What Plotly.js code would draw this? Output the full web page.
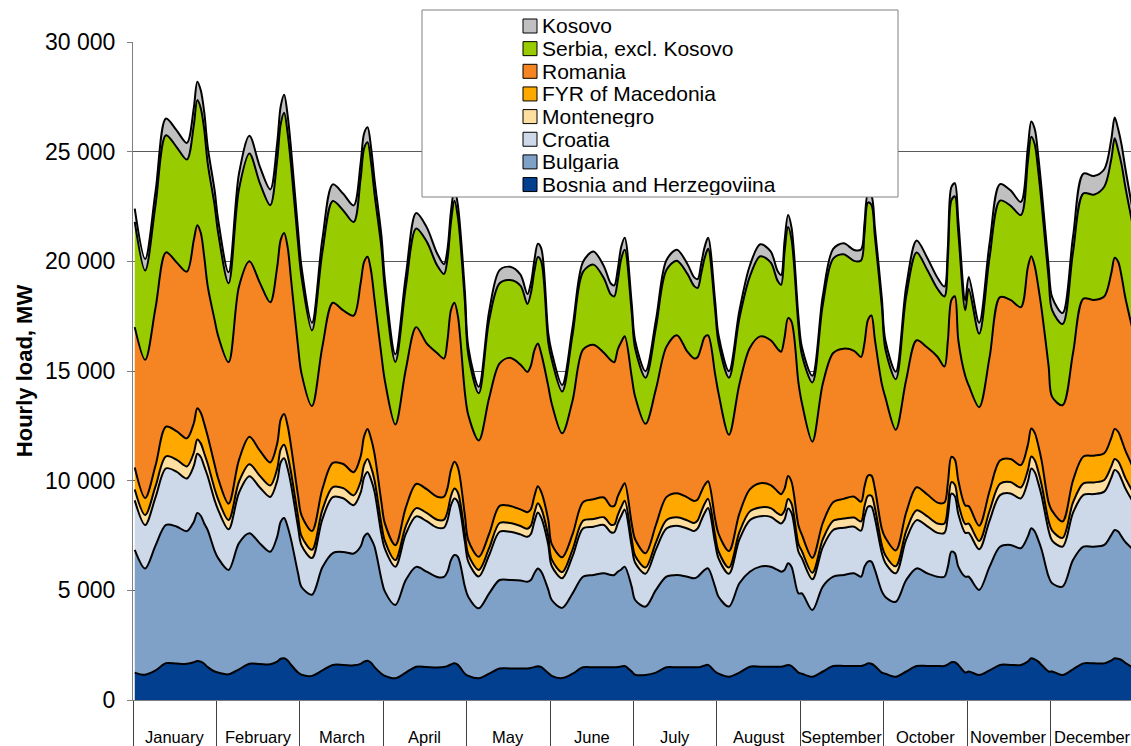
<!DOCTYPE html>
<html><head><meta charset="utf-8">
<script src="https://cdn.plot.ly/plotly-3.0.1.min.js"></script>
<style>html,body{margin:0;padding:0;background:#fff}#chart{width:1131px;height:746px}</style>
</head><body><div id="chart"></div>
<script>
// Months (categories) and the hours of the typical day sampled in each month
const months = ['January','February','March','April','May','June','July','August','September','October','November','December'];
const hours = [1,4,7,10,13,16,18,19,20,21,22,24];

// Hourly load, MW — one row per month, values at the hours above
const bosnia = [
 1250,1150,1350,1680,1660,1650,1720,1780,1750,1650,1500,1300,
 1250,1170,1400,1650,1640,1630,1750,1880,1900,1800,1600,1250,
 1150,1100,1350,1600,1600,1580,1650,1750,1790,1700,1500,1200,
 1100,990,1250,1520,1500,1480,1500,1550,1620,1670,1600,1200,
 1100,990,1200,1440,1440,1440,1440,1460,1500,1540,1500,1230,
 1100,1000,1200,1490,1490,1490,1490,1490,1500,1530,1550,1300,
 1150,1140,1250,1490,1490,1490,1490,1490,1520,1570,1600,1300,
 1200,1060,1250,1520,1520,1520,1520,1520,1550,1600,1550,1250,
 1200,1060,1300,1550,1550,1550,1550,1600,1670,1650,1550,1250,
 1200,1060,1300,1550,1550,1550,1550,1620,1720,1720,1600,1250,
 1300,1140,1350,1600,1600,1600,1750,1900,1850,1750,1600,1300,
 1300,1140,1400,1670,1670,1670,1800,1900,1880,1820,1700,1500];
const bulgaria = [
 5600,4850,5700,6300,6250,6050,6400,6750,6650,6400,6250,5500,
 5220,4760,5750,5950,5500,5130,5700,6250,6400,6100,5700,4530,
 4000,3700,4700,5100,5150,5100,5350,5700,5800,5650,5500,4300,
 3840,3340,4220,4550,4350,4130,4110,4300,4760,4940,4930,3970,
 3600,3190,3660,4030,4030,4010,3950,4010,4280,4460,4350,3800,
 3460,3200,3660,4130,4210,4290,4210,4210,4350,4420,4530,3870,
 3410,3120,3770,4130,4210,4130,4060,4130,4260,4360,4400,3870,
 3510,3200,4070,4330,4560,4560,4410,4330,4380,4630,4530,3610,
 3660,3040,3870,4070,4150,4230,4070,4480,4640,4660,4380,3700,
 3500,3420,4170,4450,4230,4070,4070,4460,5040,4970,4480,4370,
 4320,3880,4730,5390,5470,5320,5700,5930,5830,5550,5240,4320,
 4020,4030,4980,5320,5320,5400,5720,5850,5800,5630,5520,5400];
const croatia = [
 2250,1980,2200,2580,2500,2400,2550,2700,2680,2600,2450,2300,
 2200,1850,2300,2600,2550,2500,2550,2700,2720,2650,2500,2100,
 1900,1670,2200,2550,2450,2200,2450,2700,2800,2700,2500,2050,
 1950,1750,2100,2300,2300,2250,2250,2350,2500,2580,2500,2050,
 1600,1450,1750,2200,2200,2100,2050,2100,2350,2550,2450,2050,
 1550,1350,1700,2200,2200,2200,1950,1950,2200,2450,2600,1850,
 1700,1500,1850,2200,2250,2200,2150,2200,2400,2600,2750,2000,
 1750,1500,2000,2350,2300,2270,2200,2200,2300,2500,2450,1900,
 1600,1400,1800,2130,2150,2120,2100,2300,2500,2500,2350,1750,
 1550,1300,1850,2200,2150,2000,2000,2300,2650,2600,2400,2000,
 2000,1850,2100,2350,2350,2270,2500,2720,2700,2600,2450,2100,
 1950,1820,2150,2360,2400,2430,2600,2740,2700,2600,2450,2200];
const montenegro = [
 500,450,500,550,550,550,600,650,620,600,570,520,
 480,420,500,550,530,520,550,600,620,600,550,480,
 420,380,420,460,460,450,500,570,600,570,520,450,
 350,300,350,380,380,360,360,380,420,450,420,360,
 330,300,320,400,400,380,370,380,400,420,420,380,
 300,280,300,350,350,350,340,350,380,400,400,330,
 320,280,320,380,380,370,370,370,400,420,420,350,
 320,280,330,400,400,400,380,380,400,430,420,350,
 320,300,350,420,420,420,420,450,500,500,470,350,
 350,320,380,450,450,430,430,470,520,520,480,400,
 420,380,450,520,520,500,520,550,550,530,500,430,
 450,400,480,530,530,530,520,500,500,500,480,450];
const macedonia = [
 1000,780,950,1350,1300,1280,1350,1420,1400,1350,1250,1100,
 950,750,1000,1250,1150,1050,1150,1350,1400,1350,1200,950,
 950,850,950,1100,1100,1050,1150,1300,1370,1300,1200,1000,
 800,680,850,1100,1080,1050,1050,1080,1180,1220,1150,850,
 650,600,650,780,780,760,750,750,760,780,760,750,
 700,680,700,850,900,900,850,850,850,820,800,700,
 750,650,800,1050,1100,1050,1000,950,900,850,800,750,
 800,750,850,1000,1100,1050,1000,950,1000,1050,1000,850,
 750,680,750,850,900,950,900,900,920,920,880,750,
 800,720,850,1050,1000,950,950,1050,1150,1150,1050,850,
 800,700,900,1060,1050,1020,1150,1280,1250,1180,1100,850,
 900,750,1000,1220,1220,1220,1300,1370,1350,1300,1250,1150];
const romania = [
 6400,6300,7200,7950,7700,7600,8350,8350,8200,7600,6850,6600,
 6500,6450,7900,8000,7650,7300,8050,8200,8250,8150,7600,6800,
 6460,5700,6500,7300,7000,7150,7900,7950,7850,7650,7050,6700,
 6500,5500,6300,7150,6650,6550,6300,6750,7300,7250,6900,5600,
 5700,5300,6200,6500,6750,6600,6400,6550,6650,6500,6300,6100,
 6400,5650,6100,6950,7050,6600,6650,6550,6700,6700,6700,6700,
 6500,5900,6200,6850,7200,6650,6500,6500,6600,6750,6650,6600,
 6400,5300,5900,6450,6700,6600,6500,6500,6900,7200,7300,6500,
 6000,5300,6350,6800,6850,6650,6600,6550,7100,7300,6800,6600,
 6400,5500,6050,6700,6700,6650,6200,6500,7150,7450,6400,5900,
 5500,5400,6100,7450,7250,7200,8100,7850,7600,7250,6900,6200,
 5200,5300,5800,7200,7100,7150,7500,7800,7750,7450,7000,6300];
const serbia = [
 4800,4070,4700,5340,5260,5110,5230,5700,5680,5800,5600,5220,
 4700,3600,4450,4920,4550,4430,4890,5280,5480,5200,5200,4700,
 4400,3450,4300,4640,4560,4260,4770,5180,5220,4950,4810,4900,
 4150,2850,3750,4500,4650,4000,3850,3700,4000,4650,4500,4150,
 2750,2150,3550,3650,3550,3600,3100,3300,3600,3950,4200,2000,
 2000,1900,3000,3550,3650,3400,3000,3000,3150,3800,3950,2950,
 2200,2100,2800,3500,3400,3550,3300,3150,3350,3600,3950,2950,
 2300,2600,3000,3250,3650,3550,3100,3050,3900,4150,3750,2600,
 2200,2700,3600,4300,4300,4100,4400,5000,5350,5050,4700,3550,
 2200,2300,3800,4000,3550,3100,3200,3750,4550,4550,4900,3000,
 4400,3350,4550,4400,4300,4200,4800,5450,5550,5250,4800,4000,
 3950,3700,4600,4800,4800,5000,5200,5450,5100,5100,5050,4800];
const kosovo = [
 600,530,600,760,760,760,800,840,820,800,750,680,
 600,500,700,800,750,720,760,800,820,800,750,600,
 450,350,600,760,760,760,700,680,680,680,650,550,
 450,350,500,700,650,550,450,450,500,550,550,450,
 350,300,400,600,600,500,450,450,500,600,600,400,
 350,300,350,450,600,550,500,500,500,550,550,400,
 350,300,350,450,500,450,400,400,450,500,500,400,
 350,300,350,500,550,500,450,450,500,550,550,400,
 350,300,400,450,500,500,500,450,400,400,400,350,
 400,350,450,550,550,500,450,500,600,600,550,450,
 550,500,650,750,700,600,650,700,700,700,650,550,
 600,500,700,900,850,800,900,950,950,900,850,700];

// Series, bottom of the stack first
const seriesNames = ['Bosnia and Herzegoviina','Bulgaria','Croatia','Montenegro','FYR of Macedonia','Romania','Serbia, excl. Kosovo','Kosovo'];
const seriesValues = [bosnia, bulgaria, croatia, montenegro, macedonia, romania, serbia, kosovo];
const seriesColors = ['#023F8F','#7FA0C7','#CDD9E9','#FFDF9F','#FFA800','#F58522','#99CC00','#C0C0C0'];

const FONT = 'Liberation Sans, Arial, sans-serif';

// x position: hour index over the year (month * 24 + hour)
const x = [];
months.forEach((m, i) => hours.forEach(h => x.push(i * 24 + h)));

const traces = seriesValues.map((vals, i) => ({
  type: 'scatter', mode: 'lines', x: x, y: vals,
  stackgroup: 'load', name: seriesNames[i],
  fillcolor: seriesColors[i],
  line: {color: '#000000', width: 2, shape: 'spline', smoothing: 0.9},
  showlegend: false, hoverinfo: 'skip'
}));

// plot area in pixels
const PL = 133, PW = 998, PT = 42, PH = 658;
const px = v => (v - PL) / PW;
const py = v => (PT + PH - v) / PH;

const shapes = [];
const annotations = [];

// legend box
shapes.push({type: 'rect', xref: 'paper', yref: 'paper', layer: 'above',
  x0: px(422), x1: px(898), y0: py(197), y1: py(10),
  fillcolor: '#ffffff', line: {color: '#808080', width: 1}});
// legend entries, top to bottom = top of stack first
for (let k = 0; k < seriesNames.length; k++) {
  const i = seriesNames.length - 1 - k;
  const cy = 26 + 22.65 * k;
  shapes.push({type: 'rect', xref: 'paper', yref: 'paper', layer: 'above',
    x0: px(523), x1: px(537), y0: py(cy + 7), y1: py(cy - 7),
    fillcolor: seriesColors[i], line: {color: '#000000', width: 1}});
  annotations.push({xref: 'paper', yref: 'paper', x: px(541), y: py(cy),
    xanchor: 'left', yanchor: 'middle', showarrow: false, text: seriesNames[i],
    height: 21, borderpad: 0, valign: 'middle',
    font: {family: FONT, size: 21, color: '#000'}});
}
// month labels centred in each month
months.forEach((m, i) => annotations.push({xref: 'x', yref: 'paper', x: i * 24 + 12.5, y: py(737),
  xanchor: 'center', yanchor: 'middle', showarrow: false, text: m,
  font: {family: FONT, size: 16.5, color: '#000'}}));

const layout = {
  width: 1131, height: 746,
  margin: {l: PL, r: 0, t: PT, b: 746 - PT - PH, pad: 0},
  paper_bgcolor: '#ffffff', plot_bgcolor: '#ffffff',
  separators: ', ',
  font: {family: FONT, color: '#000'},
  showlegend: false,
  xaxis: {
    range: [0.5, 0.5 + PW / 3.475],
    tickvals: months.map((m, i) => i * 24 + 0.5),
    showticklabels: false, ticks: 'outside', ticklen: 46, tickwidth: 1, tickcolor: '#404040',
    showgrid: false, zeroline: false, showline: true, linecolor: '#808080', linewidth: 1
  },
  yaxis: {
    range: [0, 30000], tick0: 0, dtick: 5000, tickformat: ',d',
    ticks: 'outside', ticklen: 5, tickcolor: '#808080', ticklabelstandoff: 7,
    tickfont: {family: FONT, size: 23, color: '#000'},
    showgrid: true, gridcolor: '#5a5a5a', gridwidth: 1,
    zeroline: false, showline: true, linecolor: '#808080', linewidth: 1,
    title: {text: 'Hourly load, MW', standoff: 6,
      font: {family: FONT, size: 22, color: '#000', weight: 'bold'}}
  },
  shapes: shapes,
  annotations: annotations
};

Plotly.newPlot('chart', traces, layout, {displayModeBar: false, staticPlot: true});
</script>
</body></html>
